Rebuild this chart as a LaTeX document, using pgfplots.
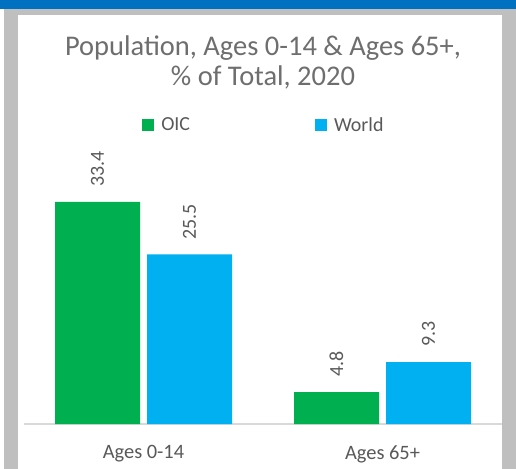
\documentclass[border=0pt]{standalone}
\usepackage{pgfplots}
\pgfplotsset{compat=1.18}
\usepackage{fontspec}
\setmainfont{Carlito}
\definecolor{oic}{HTML}{00B050}
\definecolor{world}{HTML}{00B0F0}
\definecolor{txt}{HTML}{595959}
\definecolor{ttl}{HTML}{6E6E6E}
\definecolor{frame}{HTML}{BFBFBF}
\definecolor{topbar}{HTML}{0070C0}
\definecolor{baseln}{HTML}{D9D9D9}
\begin{document}
\begin{tikzpicture}
\fill[frame] (4bp,0) rectangle (516bp,460bp);
\fill[topbar] (0,460bp) rectangle (516bp,469bp);
\fill[white] (18bp,0) rectangle (502bp,454bp);
\node[anchor=base, text=ttl, font=\fontsize{28.6}{34}\selectfont, inner sep=0pt] at (263bp,413bp) {Population, Ages 0-14 \& Ages 65+,};
\node[anchor=base, text=ttl, font=\fontsize{28.6}{34}\selectfont, inner sep=0pt] at (263bp,383bp) {\% of Total, 2020};
\begin{axis}[
  at={(24bp,45bp)}, anchor=south west,
  scale only axis, width=478bp, height=266bp,
  ybar=7bp, bar width=85bp,
  ymin=0, ymax=40, xmin=-0.5, xmax=1.5,
  xtick=data, xticklabels={Ages 0-14, Ages 65+},
  axis y line=none, axis x line*=bottom,
  x axis line style={draw=baseln, line width=1.5bp, -},
  major tick length=0pt,
  xticklabel style={font=\fontsize{20.5}{24}\selectfont, text=txt, yshift=-18bp},
  clip=false,
  nodes near coords,
  nodes near coords style={rotate=90, anchor=west, inner xsep=15bp, inner ysep=0pt, font=\fontsize{20}{24}\selectfont, text=txt},
  /pgf/number format/fixed, /pgf/number format/fixed zerofill, /pgf/number format/precision=1, /pgf/number format/assume math mode=true,
  legend image code/.code={\fill[#1] (0bp,-6bp) rectangle (12bp,6bp);},
  legend style={at={(0.247,1.124)}, anchor=west, draw=none, fill=none, font=\fontsize{20}{24}\selectfont, text=txt, legend columns=2, /tikz/column 1/.style={column sep=5bp}, /tikz/column 3/.style={column sep=5bp}, /tikz/column 2/.style={column sep=123bp}, inner sep=0pt},
]
\addplot[fill=oic, draw=none] coordinates {(0,33.4) (1,4.8)};
\addplot[fill=world, draw=none] coordinates {(0,25.5) (1,9.3)};
\legend{OIC, World}
\end{axis}
\pgfresetboundingbox
\path[use as bounding box] (0,0) rectangle (516bp,469bp);
\end{tikzpicture}
\end{document}
